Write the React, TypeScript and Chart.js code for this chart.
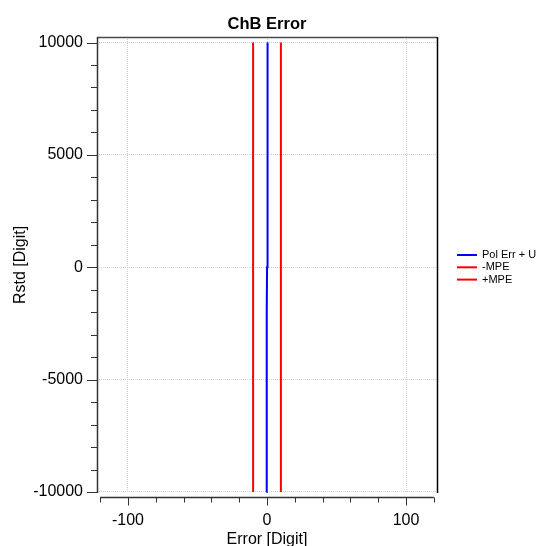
import React, { useEffect, useRef } from "react";
import { Chart, registerables } from "chart.js";

Chart.register(...registerables);

// ---- data ----
const rstd = [-10000, -8000, -6000, -4000, -2000, 0, 2000, 4000, 6000, 8000, 10000];
const polErrU = [-0.45, -0.35, -0.25, -0.15, -0.05, 0.05, 0.15, 0.25, 0.4, 0.55, 0.7];
const minusMpe = [-10, -10, -10, -10, -10, -10, -10, -10, -10, -10, -10];
const plusMpe = [10, 10, 10, 10, 10, 10, 10, 10, 10, 10, 10];
const seriesLabels = ["Pol Err + U", "-MPE", "+MPE"];
const seriesColors = ["#0000ff", "#ff0000", "#ff0000"];
const xTickLabels = [-100, 0, 100];
const yTickLabels = [-10000, -5000, 0, 5000, 10000];
const xMinorTicks = [-120, -100, -80, -60, -40, -20, 0, 20, 40, 60, 80, 100, 120];
const yMinorTicks = [
  -10000, -9000, -8000, -7000, -6000, -5000, -4000, -3000, -2000, -1000, 0,
  1000, 2000, 3000, 4000, 5000, 6000, 7000, 8000, 9000, 10000,
];
const titleText = "ChB Error";
const xTitle = "Error [Digit]";
const yTitle = "Rstd [Digit]";

const FONT = "'Liberation Sans', Arial, Helvetica, sans-serif";

const decorPlugin = {
  id: "decor",
  afterDraw(chart: any) {
    const ctx = chart.ctx;
    const ca = chart.chartArea;
    const xs = chart.scales.x;
    const ys = chart.scales.y;
    ctx.save();
    // frame top & right
    ctx.strokeStyle = "#4a4a4a";
    ctx.lineWidth = 1.5;
    ctx.beginPath();
    ctx.moveTo(ca.left, ca.top + 0.5);
    ctx.lineTo(ca.right, ca.top + 0.5);
    ctx.stroke();
    ctx.strokeStyle = "#000";
    ctx.beginPath();
    ctx.moveTo(ca.right + 0.5, ca.top);
    ctx.lineTo(ca.right + 0.5, ca.bottom);
    ctx.stroke();
    // y axis line
    ctx.strokeStyle = "#333";
    ctx.beginPath();
    ctx.moveTo(ca.left + 0.5, ca.top);
    ctx.lineTo(ca.left + 0.5, ca.bottom);
    ctx.stroke();
    // y ticks
    ctx.lineWidth = 1;
    for (const v of yMinorTicks) {
      const py = Math.round(ys.getPixelForValue(v)) + 0.5;
      const len = yTickLabels.includes(v) ? 10 : 6;
      ctx.beginPath();
      ctx.moveTo(ca.left - len, py);
      ctx.lineTo(ca.left, py);
      ctx.stroke();
    }
    // x axis line (offset below plot)
    const axY = ca.bottom + 4.5;
    const x0 = xs.getPixelForValue(xMinorTicks[0]);
    const x1 = xs.getPixelForValue(xMinorTicks[xMinorTicks.length - 1]);
    ctx.lineWidth = 1.5;
    ctx.beginPath();
    ctx.moveTo(x0, axY);
    ctx.lineTo(x1, axY);
    ctx.stroke();
    ctx.lineWidth = 1;
    for (const v of xMinorTicks) {
      const px = Math.round(xs.getPixelForValue(v)) + 0.5;
      const len = xTickLabels.includes(v) ? 8 : 5;
      ctx.beginPath();
      ctx.moveTo(px, axY);
      ctx.lineTo(px, axY + len);
      ctx.stroke();
    }
    // title
    ctx.fillStyle = "#000";
    ctx.font = `bold 16.5px ${FONT}`;
    ctx.textAlign = "center";
    ctx.textBaseline = "middle";
    ctx.fillText(titleText, (ca.left + ca.right) / 2, 24.5);
    // legend
    ctx.font = `11px ${FONT}`;
    ctx.textAlign = "left";
    const lx = 457;
    const ly0 = 255;
    const dy = 12.3;
    chart.data.datasets.forEach((ds: any, i: number) => {
      const y = ly0 + i * dy;
      ctx.strokeStyle = ds.borderColor;
      ctx.lineWidth = 2;
      ctx.beginPath();
      ctx.moveTo(lx, y);
      ctx.lineTo(lx + 20, y);
      ctx.stroke();
      ctx.fillStyle = "#000";
      ctx.fillText(ds.label, lx + 25, y);
    });
    ctx.restore();
  },
};

export default function App() {
  const ref = useRef<HTMLCanvasElement | null>(null);
  useEffect(() => {
    document.body.style.margin = "0";
    const canvas = ref.current;
    if (!canvas) return;
    const series = [polErrU, minusMpe, plusMpe];
    const chart = new Chart(canvas, {
      type: "scatter",
      data: {
        datasets: series.map((arr, i) => ({
          label: seriesLabels[i],
          data: rstd.map((y, j) => ({ x: arr[j], y })),
          showLine: true,
          borderColor: seriesColors[i],
          backgroundColor: seriesColors[i],
          borderWidth: 2,
          pointRadius: 0,
          tension: 0,
        })),
      },
      options: {
        responsive: false,
        animation: false,
        events: [],
        layout: { padding: { left: 0, top: 37, right: 100, bottom: 0 } },
        plugins: {
          legend: { display: false },
          title: { display: false },
          tooltip: { enabled: false },
        },
        scales: {
          x: {
            type: "linear",
            position: "bottom",
            min: -122.3,
            max: 122.3,
            afterFit: (s: any) => {
              s.height = 53;
            },
            afterBuildTicks: (s: any) => {
              s.ticks = xTickLabels.map((v) => ({ value: v }));
            },
            ticks: {
              autoSkip: false,
              maxRotation: 0,
              padding: 18,
              color: "#000",
              font: { size: 16, family: FONT },
              callback: (v: any) => String(Math.round(v)),
            },
            grid: {
              drawTicks: false,
              lineWidth: 1,
              color: "#cfcfcf",
            },
            border: { display: false, dash: [1, 1] },
            title: {
              display: true,
              text: xTitle,
              color: "#000",
              font: { size: 16, family: FONT },
              padding: { top: 0, bottom: -3 },
            },
          },
          y: {
            type: "linear",
            position: "left",
            min: -10045,
            max: 10245,
            afterFit: (s: any) => {
              s.width = 97;
            },
            afterBuildTicks: (s: any) => {
              s.ticks = yTickLabels.map((v) => ({ value: v }));
            },
            ticks: {
              autoSkip: false,
              padding: 14,
              color: "#000",
              font: { size: 16, family: FONT },
              callback: (v: any) => String(Math.round(v)),
            },
            grid: {
              drawTicks: false,
              lineWidth: 1,
              color: "#cfcfcf",
            },
            border: { display: false, dash: [1, 1] },
            title: {
              display: true,
              text: yTitle,
              color: "#000",
              font: { size: 16, family: FONT },
              padding: { top: 11, bottom: 0 },
            },
          },
        },
      },
      plugins: [decorPlugin],
    } as any);
    return () => chart.destroy();
  }, []);
  return (
    <div style={{ width: 537, height: 546, background: "#fff" }}>
      <canvas ref={ref} width={537} height={546} style={{ display: "block" }} />
    </div>
  );
}
